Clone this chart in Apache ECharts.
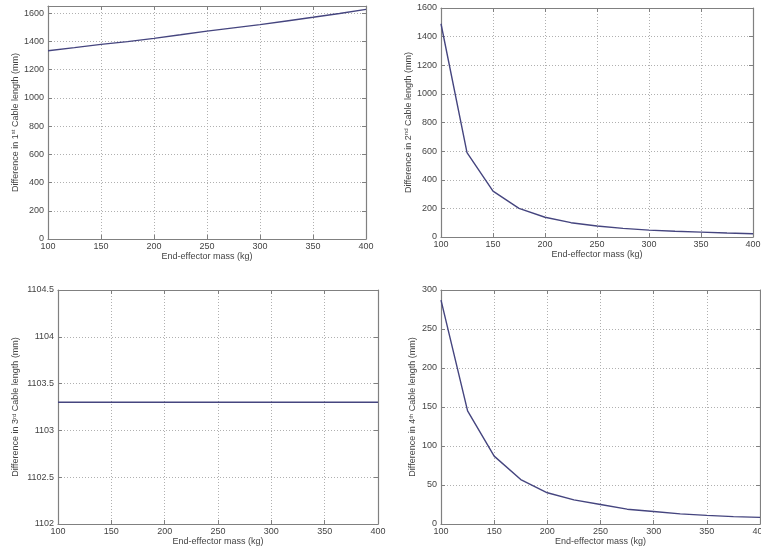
<!DOCTYPE html>
<html>
<head>
<meta charset="utf-8">
<script src="https://cdn.jsdelivr.net/npm/echarts@6/dist/echarts.min.js"></script>
<style>
html,body{margin:0;padding:0;background:#fff;}
#c{width:761px;height:555px;}
</style>
</head>
<body>
<div id="c"></div>
<script>
// ---- data ----
const massKg = [100,125,150,175,200,225,250,275,300,325,350,375,400];
const cable1 = [1333,1355,1378,1398,1421,1446,1472,1495,1518,1544,1570,1597,1626];
const cable2 = [1490,590,320,200,138,100,77,60,48,40,34,28,23];
const cable3 = [1103.3,1103.3,1103.3,1103.3,1103.3,1103.3,1103.3,1103.3,1103.3,1103.3,1103.3,1103.3,1103.3];
const cable4 = [287,145,87,57,40,31,25,19,16,13,11,9.5,8.5];
const xTitle = 'End-effector mass (kg)';
const yTitles = [
  'Difference in 1{s|st} Cable length (mm)',
  'Difference in 2{s|nd} Cable length (mm)',
  'Difference in 3{s|rd} Cable length (mm)',
  'Difference in 4{s|th} Cable length (mm)'
];
const yRanges = [
  {min:0, max:1650, interval:200},
  {min:0, max:1600, interval:200},
  {min:1102, max:1104.5, interval:0.5},
  {min:0, max:300, interval:50}
];
const xRange = {min:100, max:400, interval:50};

// ---- layout / style ----
const grids = [
  {left:48, top:6, width:318, height:233},
  {left:441, top:8, width:312, height:229},
  {left:58, top:290, width:320, height:234},
  {left:441, top:290, width:319, height:234}
];
const yNameGaps = [27, 26, 37, 23];
const xNameGaps = [12, 12, 12, 13];
const FONT = 'Liberation Sans';
const TXT = '#444';
const AX = '#808080';
const LINE = '#45457f';
const plain = v => String(v);

const xAxes = [], yAxes = [], series = [];
const allData = [cable1, cable2, cable3, cable4];
grids.forEach((g, i) => {
  xAxes.push({
    type:'value', gridIndex:i, position:'bottom',
    min:xRange.min, max:xRange.max, interval:xRange.interval,
    name:xTitle, nameLocation:'middle', nameGap:xNameGaps[i],
    nameTextStyle:{fontFamily:FONT, fontSize:9, color:TXT},
    axisLine:{show:true, onZero:false, lineStyle:{color:AX, width:1.2}},
    axisTick:{show:true, inside:true, length:4, lineStyle:{color:AX}},
    axisLabel:{fontFamily:FONT, fontSize:9, color:TXT, margin:3, formatter:plain},
    splitLine:{show:true, lineStyle:{color:'#b0b0b0', type:[1,2], width:1}}
  });
  xAxes.push({
    type:'value', gridIndex:i, position:'top',
    min:xRange.min, max:xRange.max, interval:xRange.interval,
    axisLine:{show:true, onZero:false, lineStyle:{color:AX, width:1.2}},
    axisTick:{show:true, inside:true, length:4, lineStyle:{color:AX}},
    axisLabel:{show:false}, splitLine:{show:false}
  });
  const yr = yRanges[i];
  yAxes.push({
    type:'value', gridIndex:i, position:'left',
    min:yr.min, max:yr.max, interval:yr.interval,
    name:yTitles[i], nameLocation:'middle', nameGap:yNameGaps[i], nameRotate:90,
    nameTextStyle:{fontFamily:FONT, fontSize:9, color:TXT,
      rich:{s:{fontFamily:FONT, fontSize:6, color:TXT, verticalAlign:'top', padding:[0,0,4,0]}}},
    axisLine:{show:true, onZero:false, lineStyle:{color:AX, width:1.2}},
    axisTick:{show:true, inside:true, length:4, lineStyle:{color:AX}},
    axisLabel:{fontFamily:FONT, fontSize:9, color:TXT, margin:4, showMaxLabel: i !== 0, formatter:plain},
    splitLine:{show:true, lineStyle:{color:'#b0b0b0', type:[1,2], width:1}}
  });
  yAxes.push({
    type:'value', gridIndex:i, position:'right',
    min:yr.min, max:yr.max, interval:yr.interval,
    axisLine:{show:true, onZero:false, lineStyle:{color:AX, width:1.2}},
    axisTick:{show:true, inside:true, length:4, lineStyle:{color:AX}},
    axisLabel:{show:false}, splitLine:{show:false}
  });
  series.push({
    type:'line', xAxisIndex:2*i, yAxisIndex:2*i,
    data: massKg.map((m, k) => [m, allData[i][k]]),
    showSymbol:false, symbol:'none',
    lineStyle:{color:LINE, width:1.4},
    animation:false, silent:true
  });
});

const chart = echarts.init(document.getElementById('c'), null, {renderer:'canvas'});
chart.setOption({
  backgroundColor:'#fff',
  animation:false,
  grid: grids.map(g => Object.assign({containLabel:false, outerBoundsMode:'none'}, g)),
  xAxis: xAxes,
  yAxis: yAxes,
  series: series
});
</script>
</body>
</html>
